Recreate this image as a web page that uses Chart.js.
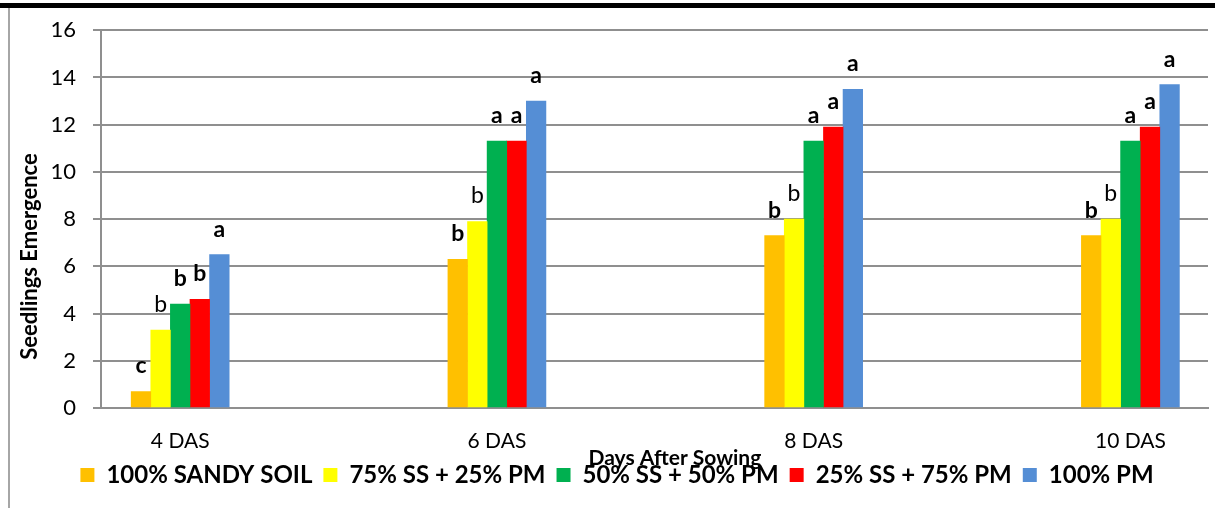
<!DOCTYPE html>
<html>
<head>
<meta charset="utf-8">
<script src="https://cdn.jsdelivr.net/npm/chart.js@4.4.1/dist/chart.umd.min.js"></script>
<style>
  html, body { margin: 0; padding: 0; background: #fff; overflow: hidden; }
  #wrap { position: relative; width: 1215px; height: 508px; }
  #topline { position: absolute; left: 0; top: 3px; width: 1215px; height: 5px; background: #000; }
  #leftline { position: absolute; left: 8px; top: 8px; width: 2px; height: 500px; background: #a6a6a6; }
  canvas { position: absolute; left: 0; top: 0; }
</style>
</head>
<body>
<div id="wrap">
  <div id="topline"></div>
  <div id="leftline"></div>
  <canvas id="chart" width="1215" height="508"></canvas>
</div>
<script>
const days = ['4 DAS', '6 DAS', '8 DAS', '10 DAS'];
const names = ['100% SANDY SOIL', '75% SS + 25% PM', '50% SS + 50% PM', '25% SS + 75% PM', '100% PM'];
const ss100 = [0.7, 6.3, 7.3, 7.3];
const ss75 = [3.3, 7.9, 8.0, 8.0];
const ss50 = [4.4, 11.3, 11.3, 11.3];
const ss25 = [4.6, 11.3, 11.9, 11.9];
const pm100 = [6.5, 13.0, 13.5, 13.7];
const lt100 = ['c', 'b', 'b', 'b'];
const lt75 = ['b', 'b', 'b', 'b'];
const lt50 = ['b', 'a', 'a', 'a'];
const lt25 = ['b', 'a', 'a', 'a'];
const ltPm = ['a', 'a', 'a', 'a'];

const axisGray = '#8f8f8f';
const fam = 'Lato, "Open Sans", sans-serif';

function pts(vals) {
    return vals.map((v, i) => ({ x: i, y: v }));
}

function ds(i, vals, color, letters, weight) {
    return { label: names[i], data: pts(vals), backgroundColor: color, borderWidth: 0, letters, letterWeight: weight };
}

// significance letters above each bar
const letterPlugin = {
    id: 'letters',
    afterDatasetsDraw(chart) {
        const ctx = chart.ctx;
        ctx.save();
        ctx.fillStyle = '#000';
        ctx.textAlign = 'center';
        ctx.textBaseline = 'alphabetic';
        chart.data.datasets.forEach((d, i) => {
            ctx.font = d.letterWeight + ' 23px ' + fam;
            chart.getDatasetMeta(i).data.forEach((bar, j) => {
                ctx.fillText(d.letters[j], bar.x, bar.y - 18);
            });
        });
        ctx.restore();
    }
};

new Chart(document.getElementById('chart'), {
    type: 'bar',
    data: {
        datasets: [
            ds(0, ss100, '#FFC000', lt100, 'bold'),
            ds(1, ss75, '#FFFF00', lt75, 'normal'),
            ds(2, ss50, '#00B050', lt50, 'bold'),
            ds(3, ss25, '#FF0000', lt25, 'bold'),
            ds(4, pm100, '#558ED5', ltPm, 'bold')
        ]
    },
    plugins: [letterPlugin],
    options: {
        responsive: false,
        animation: false,
        barThickness: 19.6,
        layout: { padding: { left: 26, right: 7, top: 29, bottom: 11 } },
        plugins: {
            tooltip: { enabled: false },
            legend: {
                position: 'bottom',
                labels: { boxWidth: 14, boxHeight: 14, padding: 11, color: '#000', font: { family: fam, size: 24, weight: 'bold' } }
            }
        },
        scales: {
            x: {
                type: 'linear',
                offset: false,
                min: -0.25,
                max: 3.245,
                afterFit: s => { s.height = 44; },
                ticks: { stepSize: 1, includeBounds: false, padding: 13, color: '#000', font: { family: fam, size: 21 }, callback: v => days[v] },
                grid: { display: false },
                border: { display: true, color: axisGray, width: 2 },
                title: { display: true, text: ' '.repeat(8) + 'Days After Sowing', color: '#000', font: { family: fam, size: 21, weight: 'bold' }, padding: { top: 0, bottom: -19 } }
            },
            y: {
                min: 0,
                max: 16,
                afterFit: s => { s.width = 75; },
                ticks: { stepSize: 2, padding: 17, color: '#000', font: { family: fam, size: 22 } },
                grid: { color: axisGray, lineWidth: 2, tickLength: 8 },
                border: { color: axisGray, width: 2 },
                title: { display: true, text: 'Seedlings Emergence' + ' '.repeat(14), color: '#000', font: { family: fam, size: 22, weight: 'bold' }, padding: { top: -9, bottom: 0 } }
            }
        }
    }
});
</script>
</body>
</html>
